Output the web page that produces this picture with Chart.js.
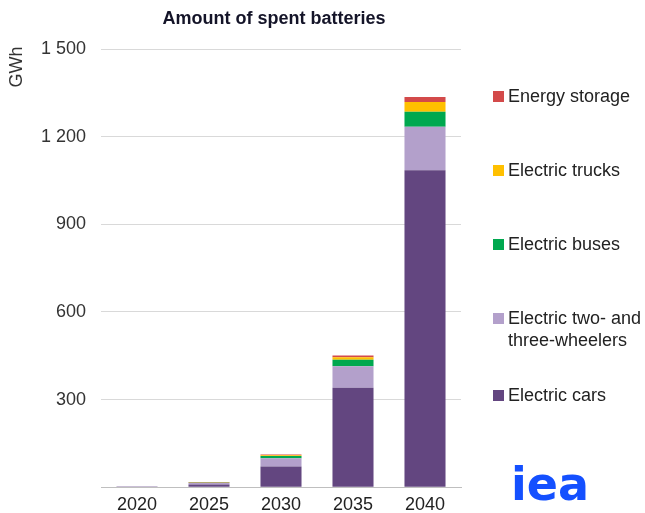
<!DOCTYPE html>
<html>
<head>
<meta charset="utf-8">
<script src="https://cdn.jsdelivr.net/npm/chart.js@4/dist/chart.umd.min.js"></script>
<style>
  html, body { margin: 0; padding: 0; background: #fff; }
  #wrap { position: relative; width: 645px; height: 513px; }
</style>
</head>
<body>
<div id="wrap"><canvas id="chartBatteries" width="645" height="513"></canvas></div>
<script>
// data (GWh)
var years = ["2020", "2025", "2030", "2035", "2040"];
var electricCars = [2, 9, 71, 340, 1085];
var twoThreeWheelers = [1, 5, 28, 74, 149];
var electricBuses = [0, 1, 8, 22, 51];
var electricTrucks = [0, 1, 2, 9, 34];
var energyStorage = [0.5, 2, 3, 6, 17];
var yTicks = [0, 300, 600, 900, 1200, 1500];

Chart.defaults.font.family = "'Liberation Sans', Arial, sans-serif";
Chart.defaults.color = "#333";

function fmt(v) {
    if (v === 0) return "";
    return String(v).replace(/\B(?=(\d{3})+(?!\d))/g, " ");
}

// legend drawn at the positions used by the original
var legendRows = [
    { ds: 4, y: 97, lines: ["Energy storage"] },
    { ds: 3, y: 171, lines: ["Electric trucks"] },
    { ds: 2, y: 245, lines: ["Electric buses"] },
    { ds: 1, y: 319, lines: ["Electric two- and", "three-wheelers"] },
    { ds: 0, y: 396, lines: ["Electric cars"] }
];

var extras = {
    id: "extras",
    afterDraw: function (chart) {
        var ctx = chart.ctx;
        ctx.save();
        // title
        ctx.fillStyle = "#141428";
        ctx.font = "bold 18px 'Liberation Sans', Arial, sans-serif";
        ctx.textAlign = "center";
        ctx.textBaseline = "middle";
        ctx.fillText("Amount of spent batteries", 274, 19);
        // unit
        ctx.save();
        ctx.translate(17, 67);
        ctx.rotate(-Math.PI / 2);
        ctx.font = "18px 'Liberation Sans', Arial, sans-serif";
        ctx.fillStyle = "#333";
        ctx.fillText("GWh", 0, 0);
        ctx.restore();
        // legend
        ctx.textAlign = "left";
        ctx.font = "18px 'Liberation Sans', Arial, sans-serif";
        legendRows.forEach(function (row) {
            var ds = chart.data.datasets[row.ds];
            ctx.fillStyle = ds.backgroundColor;
            ctx.fillRect(493, row.y - 6, 11, 11);
            ctx.fillStyle = "#222";
            row.lines.forEach(function (t, i) {
                ctx.fillText(t, 508, row.y + i * 22);
            });
        });
        // logo
        ctx.fillStyle = "#1450ff";
        ctx.font = "bold 46px 'DejaVu Sans', sans-serif";
        ctx.textBaseline = "alphabetic";
        ctx.fillText("iea", 511, 500);
        ctx.restore();
    }
};

var ctxBatteries = document.getElementById("chartBatteries").getContext("2d");
var chartBatteries = new Chart(ctxBatteries, {
    type: "bar",
    data: {
        labels: years,
        datasets: [
            { label: "Electric cars", data: electricCars, backgroundColor: "#634680" },
            { label: "Electric two- and three-wheelers", data: twoThreeWheelers, backgroundColor: "#b3a0cb" },
            { label: "Electric buses", data: electricBuses, backgroundColor: "#00a84f" },
            { label: "Electric trucks", data: electricTrucks, backgroundColor: "#ffc000" },
            { label: "Energy storage", data: energyStorage, backgroundColor: "#d34a4a" }
        ]
    },
    options: {
        responsive: false,
        animation: false,
        layout: { padding: { left: 0, right: 184, top: 49, bottom: 0 } },
        datasets: { bar: { categoryPercentage: 1, barPercentage: 0.57, borderWidth: 0 } },
        plugins: { legend: { display: false }, tooltip: { enabled: false } },
        scales: {
            x: {
                stacked: true,
                grid: { display: false, drawTicks: false },
                border: { display: true, color: "#bfbfbf", width: 1 },
                ticks: { padding: 7, font: { size: 18 }, color: "#222" },
                afterFit: function (s) { s.height = 23; }
            },
            y: {
                stacked: true,
                min: 0,
                max: 1500,
                afterBuildTicks: function (s) { s.ticks = yTicks.map(function (v) { return { value: v }; }); },
                grid: { color: "#d9d9d9", drawTicks: false },
                border: { display: false },
                ticks: { padding: 15, font: { size: 18 }, color: "#333", callback: function (v) { return fmt(v); } },
                afterFit: function (s) { s.width = 101; }
            }
        }
    },
    plugins: [extras]
});
</script>
</body>
</html>
